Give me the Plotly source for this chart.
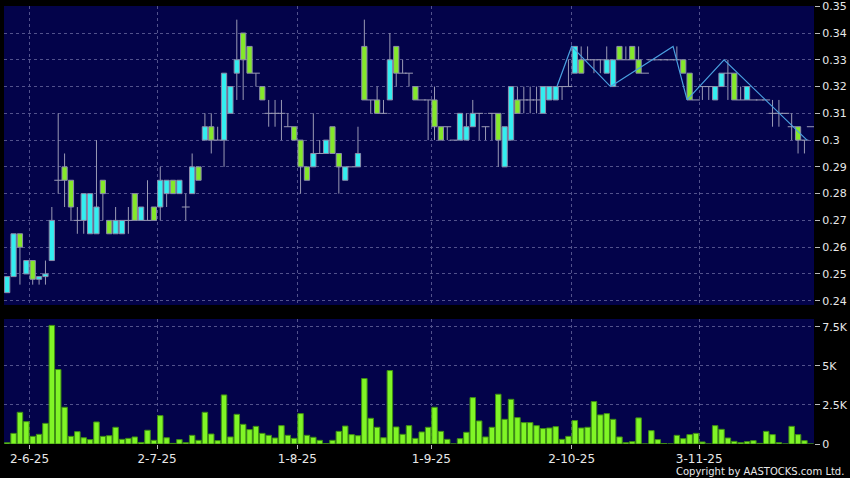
import plotly.graph_objects as go

# ---- data ----
opens = [0.243, 0.249, 0.265, 0.25, 0.255, 0.248, 0.249, 0.255, 0.285, 0.29,
         0.285, 0.27, 0.27, 0.265, 0.265, 0.285, 0.27, 0.265, 0.265, 0.27,
         0.28, 0.27, 0.27, 0.275, 0.275, 0.28, 0.285, 0.28, 0.275, 0.28,
         0.29, 0.30, 0.305, 0.30, 0.30, 0.31, 0.325, 0.34, 0.335, 0.325,
         0.32, 0.31, 0.31, 0.31, 0.305, 0.305, 0.30, 0.29, 0.29, 0.295,
         0.295, 0.305, 0.295, 0.285, 0.29, 0.29, 0.335, 0.315, 0.315, 0.31,
         0.315, 0.335, 0.325, 0.325, 0.32, 0.315, 0.315, 0.315, 0.305, 0.305,
         0.30, 0.30, 0.30, 0.305, 0.31, 0.305, 0.31, 0.31, 0.29, 0.30,
         0.315, 0.315, 0.315, 0.315, 0.31, 0.315, 0.315, 0.32, 0.32, 0.325,
         0.33, 0.33, 0.33, 0.33, 0.325, 0.32, 0.335, 0.33, 0.335, 0.33,
         0.325, 0.33, 0.33, 0.33, 0.33, 0.33, 0.33, 0.325, 0.315, 0.32,
         0.32, 0.315, 0.32, 0.325, 0.325, 0.315, 0.315, 0.315, 0.315, 0.315,
         0.31, 0.31, 0.31, 0.305, 0.305, 0.30, 0.305]
highs = [0.249, 0.265, 0.265, 0.255, 0.255, 0.249, 0.255, 0.275, 0.31, 0.295,
         0.285, 0.275, 0.28, 0.28, 0.30, 0.285, 0.27, 0.275, 0.27, 0.275,
         0.28, 0.275, 0.285, 0.275, 0.29, 0.285, 0.285, 0.285, 0.28, 0.295,
         0.29, 0.31, 0.31, 0.305, 0.325, 0.32, 0.345, 0.34, 0.335, 0.325,
         0.32, 0.315, 0.315, 0.315, 0.31, 0.305, 0.30, 0.29, 0.31, 0.30,
         0.30, 0.305, 0.295, 0.29, 0.29, 0.305, 0.345, 0.315, 0.32, 0.315,
         0.34, 0.335, 0.33, 0.325, 0.32, 0.315, 0.315, 0.32, 0.305, 0.305,
         0.30, 0.31, 0.31, 0.315, 0.31, 0.305, 0.31, 0.31, 0.305, 0.32,
         0.32, 0.32, 0.32, 0.32, 0.32, 0.32, 0.32, 0.32, 0.33, 0.335,
         0.335, 0.335, 0.33, 0.33, 0.335, 0.33, 0.335, 0.335, 0.335, 0.335,
         0.325, 0.33, 0.33, 0.33, 0.33, 0.335, 0.33, 0.325, 0.315, 0.32,
         0.32, 0.32, 0.325, 0.33, 0.325, 0.32, 0.32, 0.315, 0.315, 0.315,
         0.315, 0.315, 0.31, 0.31, 0.305, 0.30, 0.305]
lows = [0.243, 0.249, 0.246, 0.25, 0.246, 0.246, 0.246, 0.255, 0.28, 0.275,
        0.27, 0.265, 0.265, 0.265, 0.265, 0.27, 0.265, 0.265, 0.265, 0.265,
        0.27, 0.27, 0.27, 0.27, 0.27, 0.275, 0.28, 0.28, 0.27, 0.28,
        0.285, 0.30, 0.295, 0.30, 0.29, 0.31, 0.315, 0.315, 0.325, 0.32,
        0.315, 0.305, 0.305, 0.30, 0.305, 0.30, 0.28, 0.285, 0.29, 0.295,
        0.295, 0.295, 0.28, 0.285, 0.29, 0.29, 0.315, 0.31, 0.31, 0.31,
        0.315, 0.32, 0.325, 0.32, 0.315, 0.315, 0.30, 0.30, 0.30, 0.30,
        0.30, 0.30, 0.30, 0.305, 0.30, 0.30, 0.30, 0.29, 0.29, 0.30,
        0.31, 0.31, 0.31, 0.31, 0.31, 0.315, 0.315, 0.315, 0.32, 0.325,
        0.325, 0.33, 0.325, 0.325, 0.325, 0.32, 0.33, 0.33, 0.33, 0.325,
        0.325, 0.33, 0.33, 0.33, 0.33, 0.33, 0.325, 0.315, 0.315, 0.315,
        0.315, 0.315, 0.32, 0.315, 0.315, 0.315, 0.315, 0.315, 0.315, 0.315,
        0.305, 0.305, 0.31, 0.30, 0.295, 0.295, 0.305]
closes = [0.249, 0.265, 0.26, 0.255, 0.248, 0.249, 0.25, 0.27, 0.285, 0.285,
          0.275, 0.27, 0.28, 0.28, 0.275, 0.28, 0.265, 0.27, 0.27, 0.27,
          0.27, 0.275, 0.27, 0.27, 0.285, 0.285, 0.28, 0.285, 0.275, 0.29,
          0.285, 0.305, 0.30, 0.30, 0.325, 0.32, 0.33, 0.33, 0.325, 0.325,
          0.315, 0.31, 0.31, 0.31, 0.305, 0.30, 0.29, 0.285, 0.295, 0.295,
          0.30, 0.295, 0.29, 0.29, 0.29, 0.295, 0.315, 0.315, 0.31, 0.31,
          0.33, 0.325, 0.325, 0.325, 0.315, 0.315, 0.315, 0.305, 0.30, 0.305,
          0.30, 0.31, 0.305, 0.31, 0.31, 0.305, 0.31, 0.30, 0.305, 0.32,
          0.31, 0.315, 0.315, 0.315, 0.32, 0.32, 0.32, 0.32, 0.32, 0.335,
          0.325, 0.33, 0.33, 0.33, 0.33, 0.33, 0.33, 0.33, 0.33, 0.325,
          0.325, 0.33, 0.33, 0.33, 0.33, 0.33, 0.325, 0.315, 0.315, 0.32,
          0.32, 0.32, 0.325, 0.325, 0.315, 0.315, 0.32, 0.315, 0.315, 0.315,
          0.31, 0.31, 0.31, 0.305, 0.30, 0.30, 0.305]
volumes = [80, 680, 2030, 1430, 490, 620, 1320, 7590, 4765, 2350,
           490, 790, 400, 280, 1410, 490, 530, 1070, 300, 360,
           450, 100, 880, 235, 1815, 400, 40, 280, 85, 555,
           235, 2030, 640, 215, 3140, 450, 1900, 1260, 920, 1130,
           680, 555, 385, 1175, 555, 360, 1945, 555, 430, 235,
           20, 235, 810, 1150, 600, 530, 4190, 1645, 1070, 400,
           4700, 1090, 620, 1175, 360, 770, 1070, 2350, 810, 300,
           0, 340, 750, 2970, 1475, 450, 1070, 3185, 1580, 2860,
           1690, 1370, 1370, 1175, 985, 1025, 1110, 300, 490, 1500,
           1025, 1070, 2715, 1860, 1945, 1580, 450, 85, 150, 1670,
           0, 855, 280, 30, 0, 555, 340, 600, 680, 130,
           0, 1175, 940, 385, 170, 85, 150, 215, 40, 810,
           600, 85, 0, 1130, 600, 215, 0]
date_labels = ["2-6-25", "2-7-25", "1-8-25", "1-9-25", "2-10-25", "3-11-25"]
label_idx = [4, 24, 46, 67, 89, 109]
zig_x = [86.2, 88.5, 94.6, 104.4, 106.6, 112.4, 125.4]
zig_y = [0.32, 0.335, 0.32, 0.335, 0.315, 0.33, 0.30]
price_ticks = [0.24, 0.25, 0.26, 0.27, 0.28, 0.29, 0.30, 0.31, 0.32, 0.33, 0.34, 0.35]
vol_ticks = [0, 2500, 5000, 7500]
vol_tick_text = ["0", "2.5K", "5K", "7.5K"]

# ---- styles ----
NAVY = "#03034a"
CYAN = "#33eef0"
GREEN = "#84e82a"
EDGE = "#8c8caa"
WICK = "#9a9ab4"
GRID = "#52528c"
VOLG = "#80f526"
VOLE = "#3f8f14"
TXT = "#e8e8e8"

n = len(opens)
idx = list(range(n))
fig = go.Figure()

def add_boxes(cond, color):
    xs = [i for i in idx if cond(i)]
    fig.add_trace(go.Bar(
        x=xs,
        y=[abs(closes[i] - opens[i]) for i in xs],
        base=[min(opens[i], closes[i]) for i in xs],
        width=0.82,
        marker=dict(color=color, line=dict(color=EDGE, width=1)),
        xaxis="x", yaxis="y", hoverinfo="skip"))

add_boxes(lambda i: closes[i] > opens[i], CYAN)
add_boxes(lambda i: closes[i] < opens[i], GREEN)

wx, wy, dx, dy = [], [], [], []
for i in idx:
    top = max(opens[i], closes[i])
    bot = min(opens[i], closes[i])
    if highs[i] > top:
        wx += [i, i, None]; wy += [top, highs[i], None]
    if lows[i] < bot:
        wx += [i, i, None]; wy += [lows[i], bot, None]
    if closes[i] == opens[i]:
        dx += [i - 0.62, i + 0.62, None]; dy += [opens[i], opens[i], None]

fig.add_trace(go.Scatter(x=wx, y=wy, mode="lines", line=dict(color=WICK, width=1),
                         xaxis="x", yaxis="y", hoverinfo="skip"))
fig.add_trace(go.Scatter(x=dx, y=dy, mode="lines", line=dict(color=WICK, width=1),
                         xaxis="x", yaxis="y", hoverinfo="skip"))
fig.add_trace(go.Scatter(x=zig_x, y=zig_y, mode="lines", line=dict(color="#4aa0e0", width=1.2),
                         xaxis="x", yaxis="y", hoverinfo="skip"))

fig.add_trace(go.Bar(x=idx, y=volumes, width=0.86,
                     marker=dict(color=VOLG, line=dict(color=VOLE, width=1)),
                     xaxis="x2", yaxis="y2", hoverinfo="skip"))

grid_pos = [k - 0.5 for k in label_idx]
xcommon = dict(range=[-0.5, n - 0.5], tickvals=grid_pos, showgrid=True, gridcolor=GRID,
               griddash="3px,3px", gridwidth=1, zeroline=False, showline=False)

fig.update_layout(
    width=850, height=478,
    margin=dict(l=4, r=36, t=6, b=34),
    paper_bgcolor="black", plot_bgcolor=NAVY,
    barmode="overlay", showlegend=False,
    font=dict(family="DejaVu Sans", color=TXT, size=11),
    xaxis=dict(domain=[0, 1], anchor="y", showticklabels=False, ticks="", **xcommon),
    xaxis2=dict(domain=[0, 1], anchor="y2", ticktext=date_labels, ticks="outside",
                ticklen=4, tickcolor="#bbbbbb", tickfont=dict(size=12, color=TXT),
                ticklabeloverflow="allow", **xcommon),
    yaxis=dict(domain=[0.3174, 1], range=[0.2384, 0.3501], side="right",
               tickvals=price_ticks, ticktext=[f"{v:g}" for v in price_ticks],
               ticks="outside", ticklen=5, tickcolor="#bbbbbb",
               ticklabeloverflow="allow",
               showgrid=True, gridcolor=GRID, griddash="3px,3px", zeroline=False,
               showline=False, automargin=False),
    yaxis2=dict(domain=[0, 0.2854], range=[0, 8000], side="right",
                tickvals=vol_ticks, ticktext=vol_tick_text,
                ticks="outside", ticklen=5, tickcolor="#bbbbbb",
                ticklabeloverflow="allow",
                showgrid=True, gridcolor=GRID, griddash="3px,3px", zeroline=False,
                showline=False, automargin=False),
)

fig.add_annotation(text="Copyright by AASTOCKS.com Ltd.", xref="paper", yref="paper",
                   x=1.0395, y=-0.0632, xanchor="right", yanchor="middle",
                   showarrow=False, font=dict(family="DejaVu Sans", size=10, color=TXT))

fig.write_html("out.html", config={"displayModeBar": False},
               post_script="document.body.style.margin='0';document.body.style.overflow='hidden';")
